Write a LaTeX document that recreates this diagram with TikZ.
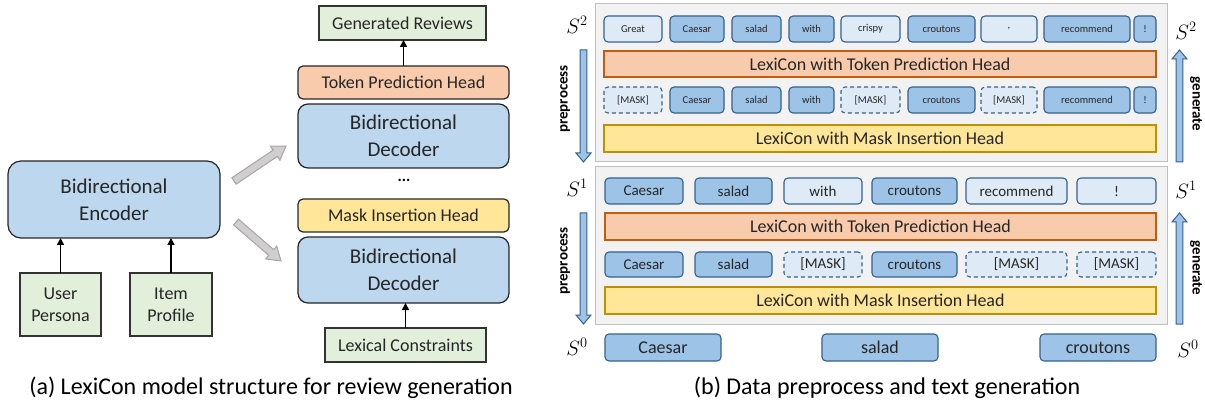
\documentclass[tikz,border=0pt]{standalone}
\usepackage{fontspec}
\setmainfont{Carlito}
\usetikzlibrary{arrows.meta,calc}
\definecolor{encblue}{HTML}{BDD7EE}
\definecolor{grn}{HTML}{E2EFDA}
\definecolor{org}{HTML}{F8CBAD}
\definecolor{orgline}{HTML}{C55A11}
\definecolor{yel}{HTML}{FFE699}
\definecolor{yelline}{HTML}{BF9000}
\definecolor{tokdark}{HTML}{9DC3E6}
\definecolor{toklight}{HTML}{DEEBF7}
\definecolor{tokline}{HTML}{35618F}
\definecolor{pnlfill}{HTML}{F2F2F2}
\definecolor{pnlline}{HTML}{BFBFBF}
\definecolor{garrow}{HTML}{D0CECE}
\definecolor{garrowline}{HTML}{A6A6A6}
\definecolor{txt}{HTML}{262626}
\newcommand{\fs}[1]{\fontsize{#1}{#1}\selectfont}
% box: style, name, x1, y1, x2, y2, text
\newcommand{\mybox}[7]{\node[#1,minimum width={(#5-#3)*1pt},minimum height={(#6-#4)*1pt}] (#2) at ({(#3+#5)/2},{(#4+#6)/2}) {#7};}
% block arrow: style, from, to, shaft half width, head half width, head length
\newcommand{\blockarrow}[6]{%
  \pgfpointanchor{#2}{center}\pgfgetlastxy{\bax}{\bay}%
  \pgfpointanchor{#3}{center}\pgfgetlastxy{\bbx}{\bby}%
  \pgfmathsetmacro\baang{atan2(\bby-\bay,\bbx-\bax)}%
  \pgfmathsetmacro\balen{veclen(\bbx-\bax,\bby-\bay)}%
  \begin{scope}[shift={(#2)},rotate=\baang]
    \filldraw[#1] (0pt,-#4pt) -- ({\balen pt-#6pt},-#4pt) -- ({\balen pt-#6pt},-#5pt) -- (\balen pt,0pt)
      -- ({\balen pt-#6pt},#5pt) -- ({\balen pt-#6pt},#4pt) -- (0pt,#4pt) -- cycle;
  \end{scope}}
\begin{document}
\begin{tikzpicture}[x=1pt,y=-1pt,
  base/.style={inner sep=0pt,outer sep=0pt,text=txt,align=center},
  gbox/.style={base,draw=black!80,fill=grn,line width=1.2pt,font=\fs{18}},
  lhead/.style={base,draw=black!85,line width=1.2pt,rounded corners=5pt,font=\fs{18}},
  dec/.style={base,draw=black!85,fill=encblue,line width=1.2pt,rounded corners=10pt,font=\fontsize{21}{27}\selectfont},
  pnl/.style={base,draw=pnlline,fill=pnlfill,line width=1pt},
  tbar/.style={base,draw=orgline,fill=org,line width=1.2pt,font=\fs{18}},
  mbar/.style={base,draw=yelline,fill=yel,line width=1.2pt,font=\fs{18}},
  tokd/.style={base,draw=tokline,fill=tokdark,line width=1.1pt,rounded corners=4pt},
  tokl/.style={base,draw=tokline,fill=toklight,line width=1.1pt,rounded corners=4pt},
  tokm/.style={tokl,dashed,dash pattern=on 4pt off 3pt},
  sa/.style={font=\fs{10.5}}, sb/.style={font=\fs{15}}, sc/.style={font=\fs{18}},
  blk/.style={line width=1.5pt,-{Triangle[length=7pt,width=7pt]}},
  garr/.style={fill=garrow,draw=garrowline,line width=1pt},
  barr/.style={fill=tokdark,draw=tokline,line width=1pt},
  slab/.style={font=\fs{20}},
  vlab/.style={font=\bfseries\fs{15}},
  captext/.style={font=\fs{24}}]
\useasboundingbox (0,0) rectangle (1205,406);
% ---------- (a) ----------
\mybox{gbox}{gen}{319}{6}{486}{40}{Generated Reviews}
\mybox{lhead,fill=org}{tph}{298}{66}{509}{99}{Token Prediction Head}
\mybox{dec}{dec1}{298}{104}{509}{168}{Bidirectional\\Decoder}
\node[font=\bfseries\fs{16}] (dots) at (404,180) {...};
\mybox{lhead,fill=yel}{mih}{298}{199}{509}{232}{Mask Insertion Head}
\mybox{dec}{dec2}{298}{237}{509}{303}{Bidirectional\\Decoder}
\mybox{gbox}{lex}{325}{328}{486}{362}{Lexical Constraints}
\mybox{dec,rounded corners=13pt}{enc}{8}{161}{220}{238}{Bidirectional\\Encoder}
\mybox{gbox,font=\fontsize{18}{22}\selectfont}{user}{20}{273}{101}{336}{User\\Persona}
\mybox{gbox,font=\fontsize{18}{22}\selectfont}{item}{130}{273}{212}{336}{Item\\Profile}
\draw[blk] (user.north) -- (user.north |- enc.south);
\draw[blk] (item.north) -- (item.north |- enc.south);
\draw[blk] (tph.north) -- (tph.north |- gen.south);
\draw[blk] (lex.north) -- (lex.north |- dec2.south);
\coordinate (ga1s) at (234,181); \coordinate (ga1e) at (286,146);
\coordinate (ga2s) at (236,222); \coordinate (ga2e) at (281,261);
\blockarrow{garr}{ga1s}{ga1e}{3.8}{8.5}{13}
\blockarrow{garr}{ga2s}{ga2e}{3.8}{8.5}{13}
\node[captext] (capa) at (271,388) {(a) LexiCon model structure for review generation};
% ---------- (b) ----------
\mybox{pnl}{p2}{595}{4}{1167}{162}{}
\mybox{pnl}{p1}{595}{167}{1167}{324}{}
% S2 row
\mybox{tokl,sa}{a1}{604}{16}{662}{42}{Great}
\mybox{tokd,sa}{a2}{670}{16}{724}{42}{Caesar}
\mybox{tokd,sa}{a3}{732}{16}{781}{42}{salad}
\mybox{tokd,sa}{a4}{789}{16}{834}{42}{with}
\mybox{tokl,sa}{a5}{841}{16}{900}{42}{crispy}
\mybox{tokd,sa}{a6}{908}{16}{975}{42}{croutons}
\mybox{tokl,sa}{a7}{981}{16}{1037}{42}{,}
\mybox{tokd,sa}{a8}{1044}{16}{1130}{42}{recommend}
\mybox{tokd,sa}{a9}{1134}{16}{1156}{42}{!}
\mybox{tbar}{t2}{604}{51}{1156}{77}{LexiCon with Token Prediction Head}
% mask row 2
\mybox{tokm,sa}{b1}{604}{87}{662}{113}{[MASK]}
\mybox{tokd,sa}{b2}{670}{87}{724}{113}{Caesar}
\mybox{tokd,sa}{b3}{732}{87}{781}{113}{salad}
\mybox{tokd,sa}{b4}{789}{87}{834}{113}{with}
\mybox{tokm,sa}{b5}{841}{87}{900}{113}{[MASK]}
\mybox{tokd,sa}{b6}{908}{87}{975}{113}{croutons}
\mybox{tokm,sa}{b7}{981}{87}{1037}{113}{[MASK]}
\mybox{tokd,sa}{b8}{1044}{87}{1130}{113}{recommend}
\mybox{tokd,sa}{b9}{1134}{87}{1156}{113}{!}
\mybox{mbar}{m2}{604}{125}{1156}{152}{LexiCon with Mask Insertion Head}
% S1 row
\mybox{tokd,sb}{c1}{605}{178}{683}{204}{Caesar}
\mybox{tokd,sb}{c2}{695}{178}{772}{204}{salad}
\mybox{tokl,sb}{c3}{784}{178}{862}{204}{with}
\mybox{tokd,sb}{c4}{872}{178}{957}{204}{croutons}
\mybox{tokl,sb}{c5}{966}{178}{1067}{204}{recommend}
\mybox{tokl,sb}{c6}{1077}{178}{1156}{204}{!}
\mybox{tbar}{t1}{605}{213}{1156}{240}{LexiCon with Token Prediction Head}
% mask row 1
\mybox{tokd,sb}{d1}{605}{252}{683}{277}{Caesar}
\mybox{tokd,sb}{d2}{695}{252}{772}{277}{salad}
\mybox{tokm,sb}{d3}{784}{252}{862}{277}{[MASK]}
\mybox{tokd,sb}{d4}{872}{252}{957}{277}{croutons}
\mybox{tokm,sb}{d5}{966}{252}{1067}{277}{[MASK]}
\mybox{tokm,sb}{d6}{1077}{252}{1156}{277}{[MASK]}
\mybox{mbar}{m1}{605}{287}{1156}{314}{LexiCon with Mask Insertion Head}
% S0 row
\mybox{tokd,sc}{e1}{605}{334}{721}{361}{Caesar}
\mybox{tokd,sc}{e2}{822}{334}{938}{361}{salad}
\mybox{tokd,sc}{e3}{1040}{334}{1156}{361}{croutons}
% S labels
\node[slab] (sl2) at (577,25) {$S^2$};
\node[slab] (sr2) at (1186,31) {$S^2$};
\node[slab] (sl1) at (577,188) {$S^1$};
\node[slab] (sr1) at (1186,190) {$S^1$};
\node[slab] (sl0) at (577,347) {$S^0$};
\node[slab] (sr0) at (1188,349) {$S^0$};
% preprocess / generate arrows
\coordinate (pa2s) at (583.5,50); \coordinate (pa2e) at (583.5,162);
\coordinate (pa1s) at (583.5,213); \coordinate (pa1e) at (583.5,324);
\coordinate (ga2bs) at (1179.5,162); \coordinate (ga2be) at (1179.5,50);
\coordinate (ga1bs) at (1179.5,324); \coordinate (ga1be) at (1179.5,213);
\blockarrow{barr}{pa2s}{pa2e}{3.3}{7.5}{9}
\blockarrow{barr}{pa1s}{pa1e}{3.3}{7.5}{9}
\blockarrow{barr}{ga2bs}{ga2be}{3.3}{7.5}{9}
\blockarrow{barr}{ga1bs}{ga1be}{3.3}{7.5}{9}
\node[vlab,rotate=90] (pp2) at (565,99) {preprocess};
\node[vlab,rotate=90] (pp1) at (565,261) {preprocess};
\node[vlab,rotate=-90] (gg2) at (1196,104) {generate};
\node[vlab,rotate=-90] (gg1) at (1196,268) {generate};
\node[captext] (capb) at (887,388) {(b) Data preprocess and text generation};
\end{tikzpicture}
\end{document}
